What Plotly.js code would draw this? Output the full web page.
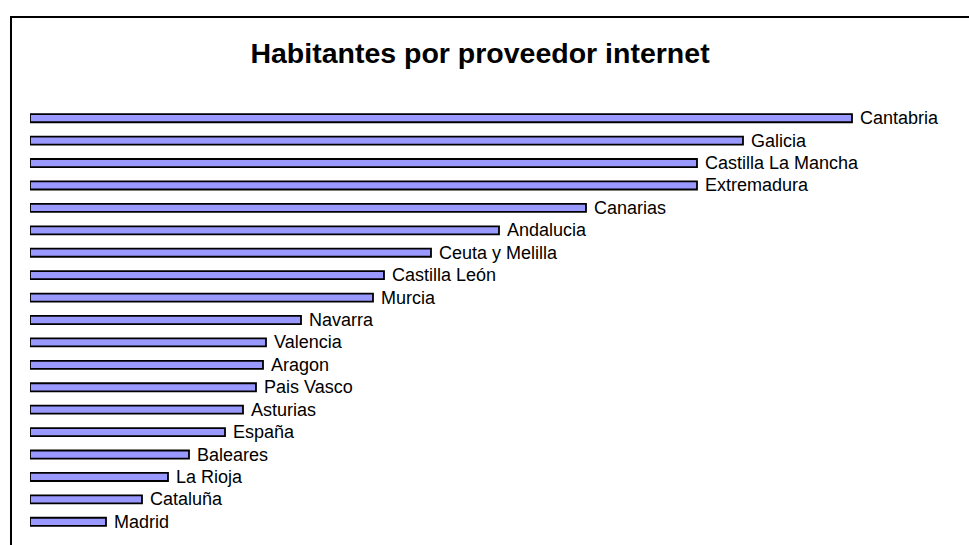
<!DOCTYPE html>
<html>
<head>
<meta charset="utf-8">
<script src="https://cdn.plot.ly/plotly-3.0.1.min.js"></script>
<style>html,body{margin:0;padding:0;background:#fff;}#chart{width:969px;height:545px;}</style>
</head>
<body>
<div id="chart"></div>
<script>
const regions = ["Cantabria","Galicia","Castilla La Mancha","Extremadura","Canarias","Andalucia","Ceuta y Melilla","Castilla León","Murcia","Navarra","Valencia","Aragon","Pais Vasco","Asturias","España","Baleares","La Rioja","Cataluña","Madrid"];
const habitantes = [822,713,667,667,556,469,401,354,343,271,236,233,226,213,195,159,138,112,76];
const chartTitle = "Habitantes por proveedor internet";

const labelFont = {family: 'Liberation Sans, Arial, sans-serif', size: 18, color: '#000000'};
const trace = {
  type: 'bar',
  orientation: 'h',
  y: regions,
  x: habitantes,
  text: regions.map(r => '\u00a0' + r),
  textposition: 'outside',
  constraintext: 'none',
  cliponaxis: false,
  textfont: labelFont,
  outsidetextfont: labelFont,
  marker: {color: '#9999ff', line: {color: '#000', width: 1.8}},
  hoverinfo: 'none'
};

const W = 900, H = 426, L = 30, T = 107, B = 12;
const layout = {
  width: 969, height: 545,
  margin: {l: L, r: 969 - L - W, t: T, b: B, pad: 0},
  paper_bgcolor: '#fff', plot_bgcolor: '#fff',
  showlegend: false,
  bargap: 0.64,
  title: {text: '<b>' + chartTitle + '</b>', font: {family: 'Liberation Sans, Arial, sans-serif', size: 28.5, color: '#000'},
          x: 0.5, xref: 'paper', xanchor: 'center', y: 1 - 53/545, yref: 'container', yanchor: 'middle'},
  xaxis: {range: [0, W], visible: false, fixedrange: true},
  yaxis: {autorange: 'reversed', type: 'category', showticklabels: false, showgrid: false, zeroline: false, showline: false, ticks: '', fixedrange: true},
  shapes: [{type: 'rect', xref: 'paper', yref: 'paper', x0: (11 - L)/W, x1: 1.2, y0: -0.2, y1: (T + H - 17)/H,
            line: {color: '#000', width: 2}, fillcolor: 'rgba(0,0,0,0)', layer: 'above'}]
};
Plotly.newPlot('chart', [trace], layout, {staticPlot: true, displayModeBar: false});
</script>
</body>
</html>
